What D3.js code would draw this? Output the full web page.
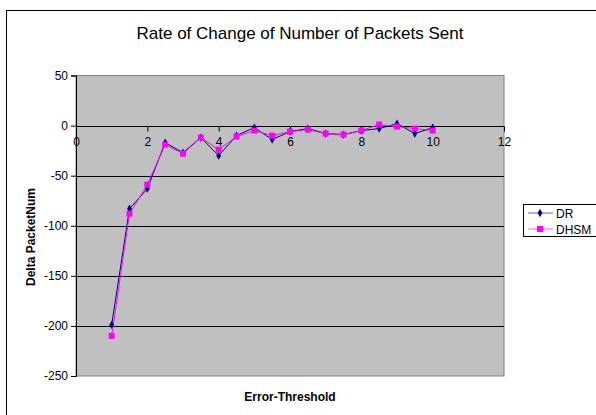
<!DOCTYPE html>
<html><head><meta charset="utf-8">
<script src="https://cdn.jsdelivr.net/npm/d3@7"></script>
<style>body{margin:0;background:#fff}svg{display:block}text{font-family:Arial,"Liberation Sans",sans-serif}</style>
</head><body>
<script>
const thresholds = [1,1.5,2,2.5,3,3.5,4,4.5,5,5.5,6,6.5,7,7.5,8,8.5,9,9.5,10];
const drValues = [-199,-83,-63,-17,-27,-12,-30,-10,-2,-14,-6,-3,-8,-9,-5,-3,2,-8,-2];
const dhsmValues = [-210,-88,-59,-19,-28,-12,-24,-11,-5,-10,-6,-4,-8,-9,-5,1,-1,-3,-5];
const xTicks = [0,2,4,6,8,10,12];
const yTicks = [50,0,-50,-100,-150,-200,-250];
const seriesNames = ["DR","DHSM"];

const W=596,H=415;
const svg=d3.select("body").append("svg").attr("width",W).attr("height",H);
svg.append("rect").attr("x",6.5).attr("y",10.5).attr("width",W).attr("height",H).attr("fill","#fff").attr("stroke","#000");

const x=d3.scaleLinear().domain([0,12]).range([76,504]);
const y=d3.scaleLinear().domain([-250,50]).range([376,75.5]);

svg.append("rect").attr("x",x(0)).attr("y",y(50)).attr("width",x(12)-x(0)).attr("height",y(-250)-y(50))
  .attr("fill","#C0C0C0").attr("stroke","#808080");

// gridlines
svg.append("g").selectAll("line").data(yTicks.filter(d=>d!==-250&&d!==50)).join("line")
  .attr("x1",x(0)).attr("x2",x(12)).attr("y1",d=>Math.round(y(d))+0.5).attr("y2",d=>Math.round(y(d))+0.5)
  .attr("stroke","#000");

// y axis
const ya=svg.append("g").attr("transform",`translate(${x(0)},0)`)
  .call(d3.axisLeft(y).tickValues(yTicks).tickFormat(d=>String(d)).tickSize(5).tickPadding(3));
ya.select(".domain").attr("stroke","#000");
ya.selectAll("text").attr("font-size",12).attr("fill","#000");

// x axis at y=0
const xa=svg.append("g").attr("transform",`translate(0,${Math.round(y(0))+0.5})`)
  .call(d3.axisBottom(x).tickValues(xTicks).tickFormat(d=>String(d)).tickSize(5).tickPadding(6));
xa.select(".domain").remove();
xa.selectAll("text").attr("font-size",12).attr("fill","#000");

const line=d3.line().x((d,i)=>x(thresholds[i])).y(d=>y(d));
svg.append("path").datum(drValues).attr("d",line).attr("fill","none").attr("stroke","#000080").attr("stroke-width",1);
svg.append("path").datum(dhsmValues).attr("d",line).attr("fill","none").attr("stroke","#FF00FF").attr("stroke-width",1);

const diamond=d3.symbol().type(d3.symbolDiamond).size(20);
svg.append("g").selectAll("path").data(drValues).join("path")
  .attr("d",diamond).attr("transform",(d,i)=>`translate(${x(thresholds[i])},${y(d)})`).attr("fill","#000080");
svg.append("g").selectAll("rect").data(dhsmValues).join("rect")
  .attr("x",(d,i)=>x(thresholds[i])-3).attr("y",d=>y(d)-3).attr("width",6).attr("height",6).attr("fill","#FF00FF");

// title
svg.append("text").attr("x",300).attr("y",39).attr("text-anchor","middle").attr("font-size",17).text("Rate of Change of Number of Packets Sent");
svg.append("text").attr("x",290).attr("y",401).attr("text-anchor","middle").attr("font-size",12).attr("font-weight","bold").text("Error-Threshold");
svg.append("text").attr("transform","translate(35,237) rotate(-90)").attr("text-anchor","middle").attr("font-size",12).attr("font-weight","bold").text("Delta PacketNum");

// legend
const lg=svg.append("g");
lg.append("rect").attr("x",523.5).attr("y",204.5).attr("width",100).attr("height",32).attr("fill","#fff").attr("stroke","#000");
seriesNames.forEach((n,i)=>{
  const yy=213+i*16, c=i===0?"#000080":"#FF00FF";
  lg.append("line").attr("x1",528).attr("x2",553).attr("y1",yy).attr("y2",yy).attr("stroke",i===0?"#6060B0":"#FF60FF");
  if(i===0) lg.append("path").attr("d",diamond).attr("transform",`translate(540,${yy})`).attr("fill",c);
  else lg.append("rect").attr("x",537).attr("y",yy-3).attr("width",6).attr("height",6).attr("fill",c);
  lg.append("text").attr("x",556).attr("y",yy+4.5).attr("font-size",12).text(n);
});
</script>
</body></html>
